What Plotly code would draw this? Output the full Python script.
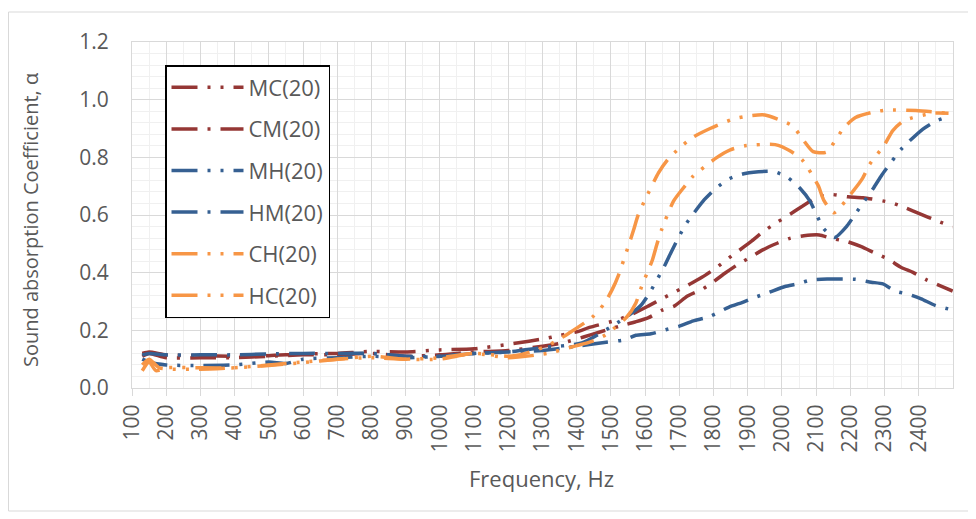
import plotly.graph_objects as go

# ---------------- data ----------------
MC_f = [130,150,200,300,400,500,600,700,800,900,1000,1100,1220,1304,1349,1400,1440,1521,1565,1610,1650,1730,1766,1808,1845,1912,1946,1989,2028,2101,2145,2193,2237,2319,2361,2407,2449,2499]
MC_a = [0.12,0.125,0.115,0.112,0.11,0.112,0.118,0.12,0.127,0.125,0.132,0.136,0.155,0.171,0.182,0.195,0.211,0.237,0.258,0.285,0.31,0.36,0.384,0.417,0.451,0.51,0.543,0.577,0.606,0.66,0.671,0.663,0.66,0.643,0.625,0.602,0.582,0.559]

CM_f = [130,150,200,300,400,500,600,700,800,900,1000,1100,1200,1300,1361,1420,1470,1527,1571,1610,1650,1685,1724,1766,1798,1832,1873,1907,1944,1986,2023,2064,2109,2145,2190,2232,2268,2310,2349,2383,2423,2465,2499]
CM_a = [0.11,0.12,0.105,0.105,0.105,0.11,0.115,0.115,0.12,0.11,0.115,0.125,0.13,0.145,0.157,0.177,0.195,0.215,0.229,0.244,0.27,0.284,0.319,0.342,0.367,0.397,0.43,0.453,0.479,0.502,0.519,0.528,0.531,0.519,0.508,0.49,0.47,0.447,0.418,0.401,0.375,0.353,0.336]

MH_f = [130,150,200,300,400,500,550,600,700,800,900,1000,1100,1200,1300,1415,1508,1552,1588,1613,1656,1676,1698,1722,1773,1808,1847,1892,1975,2018,2054,2082,2122,2154,2190,2217,2268,2292,2321,2349,2412,2450,2494]
MH_a = [0.1,0.09,0.08,0.078,0.08,0.09,0.085,0.1,0.105,0.11,0.105,0.11,0.12,0.125,0.14,0.156,0.218,0.252,0.287,0.33,0.422,0.471,0.523,0.573,0.653,0.694,0.726,0.744,0.751,0.729,0.691,0.648,0.553,0.522,0.562,0.608,0.694,0.739,0.786,0.829,0.898,0.926,0.944]

HM_f = [130,150,200,300,400,500,600,700,800,900,1000,1100,1200,1300,1400,1486,1539,1573,1617,1660,1699,1741,1787,1844,1887,1918,1963,2009,2045,2086,2132,2167,2215,2261,2295,2332,2373,2407,2449,2494]
HM_a = [0.115,0.12,0.115,0.115,0.115,0.118,0.12,0.12,0.12,0.11,0.11,0.12,0.125,0.13,0.145,0.159,0.167,0.183,0.188,0.202,0.214,0.233,0.247,0.28,0.298,0.313,0.332,0.352,0.361,0.375,0.378,0.378,0.377,0.367,0.361,0.336,0.324,0.309,0.286,0.272]

CH_f = [130,150,170,200,300,400,500,600,700,800,900,1000,1100,1200,1250,1300,1336,1377,1445,1480,1504,1522,1551,1566,1580,1600,1639,1666,1700,1740,1790,1858,1905,1950,2031,2060,2091,2130,2181,2215,2261,2305,2392,2487]
CH_a = [0.06,0.09,0.06,0.07,0.07,0.07,0.078,0.088,0.1,0.11,0.1,0.1,0.12,0.11,0.12,0.14,0.16,0.19,0.245,0.292,0.342,0.391,0.492,0.547,0.601,0.653,0.746,0.792,0.832,0.87,0.9,0.933,0.944,0.947,0.909,0.864,0.82,0.818,0.903,0.938,0.955,0.964,0.962,0.953]

HC_f = [130,150,180,300,400,500,600,700,800,900,1000,1100,1200,1314,1397,1440,1484,1547,1573,1590,1621,1634,1649,1683,1710,1740,1808,1849,1892,1980,2023,2060,2106,2122,2152,2208,2235,2256,2300,2324,2358,2441,2487]
HC_a = [0.08,0.1,0.07,0.065,0.07,0.08,0.09,0.1,0.105,0.1,0.105,0.12,0.105,0.12,0.146,0.16,0.184,0.247,0.295,0.353,0.443,0.497,0.552,0.648,0.691,0.734,0.798,0.826,0.84,0.844,0.823,0.79,0.702,0.652,0.608,0.683,0.726,0.775,0.844,0.893,0.928,0.953,0.953]

names = ["MC(20)", "CM(20)", "MH(20)", "HM(20)", "CH(20)", "HC(20)"]
x_ticks = list(range(100, 2401, 100))
y_ticks = [0.0, 0.2, 0.4, 0.6, 0.8, 1.0, 1.2]
x_title = "Frequency, Hz"
y_title = "Sound absorption Coefficient, α"

# ---------------- styles ----------------
RED = "#953735"
BLUE = "#366092"
ORANGE = "#F79646"
DDD = "26px,10px,3px,10px,3px,10px"   # long dash dot dot
DD = "26px,10px,3px,10px"             # long dash dot
TXT = "#595959"
FONT = "Open Sans"
FS = 21
FS_XT = 22
FS_YT = 20
FS_L = 22

series = [
    (MC_f, MC_a, RED, DDD),
    (CM_f, CM_a, RED, DD),
    (MH_f, MH_a, BLUE, DDD),
    (HM_f, HM_a, BLUE, DD),
    (CH_f, CH_a, ORANGE, DDD),
    (HC_f, HC_a, ORANGE, DDD),
]

fig = go.Figure()
for name, (f, a, c, d) in zip(names, series):
    fig.add_trace(go.Scatter(
        x=f, y=a, name=name, mode="lines", legendgroup=name,
        line=dict(color=c, width=3.5, dash=d, shape="spline", smoothing=0.6),
    ))

# page body has an 8px offset; window-pixel targets: plot area x 132..953, y 42..388
OFF = 8
W, H = 976, 519
PL, PR, PT, PB = 132, 953, 42, 388
L, T = PL - OFF, PT - OFF
R, B = W + OFF - PR, H + OFF - PB
pw, ph = PR - PL, PB - PT

def px2paper(x, y):
    return (x - PL) / pw, (PB - y) / ph

bx0, by0 = px2paper(OFF + 0.5, 12)
bx1, by1 = px2paper(971, 511)
lx, ly = px2paper(165, 65)
xtx, xty = px2paper(541, 478)
ytx, yty = px2paper(30, 220)

fig.update_layout(
    width=W, height=H,
    margin=dict(l=L, r=R, t=T, b=B, pad=0, autoexpand=False),
    paper_bgcolor="white", plot_bgcolor="white",
    font=dict(family=FONT, size=FS, color=TXT),
    showlegend=True,
    legend=dict(
        x=lx, y=ly, xanchor="left", yanchor="top",
        bgcolor="white", bordercolor="black", borderwidth=1.5,
        font=dict(family=FONT, size=FS_L, color=TXT),
        tracegroupgap=10, itemwidth=72,
    ),
    xaxis=dict(
        range=[100, 2500], tickvals=x_ticks, tickangle=-90,
        showgrid=True, gridcolor="#D9D9D9", gridwidth=1,
        minor=dict(dtick=50, tick0=100, showgrid=True, gridcolor="#F0F0F0", gridwidth=1),
        ticks="outside", ticklen=7, tickcolor="#D9D9D9",
        showline=True, linecolor="#D9D9D9", linewidth=1, mirror=True,
        zeroline=False,
        tickfont=dict(family=FONT, size=FS, color=TXT),
    ),
    yaxis=dict(
        range=[0, 1.2], tickvals=y_ticks, tickformat=".1f",
        showgrid=True, gridcolor="#D9D9D9", gridwidth=1,
        minor=dict(dtick=0.04, tick0=0, showgrid=True, gridcolor="#F0F0F0", gridwidth=1),
        ticks="", showline=True, linecolor="#D9D9D9", linewidth=1, mirror=True,
        zeroline=False, ticklabelstandoff=18,
        tickfont=dict(family=FONT, size=FS, color=TXT),
    ),
    annotations=[
        dict(text=x_title, xref="paper", yref="paper", x=xtx, y=xty,
             xanchor="center", yanchor="middle", showarrow=False,
             font=dict(family=FONT, size=FS_XT, color=TXT)),
        dict(text=y_title, xref="paper", yref="paper", x=ytx, y=yty, textangle=-90,
             xanchor="center", yanchor="middle", showarrow=False,
             font=dict(family=FONT, size=FS_YT, color=TXT)),
    ],
    shapes=[dict(type="rect", xref="paper", yref="paper", x0=bx0, y0=by1, x1=bx1, y1=by0,
                 line=dict(color="#D9D9D9", width=1), fillcolor="rgba(0,0,0,0)", layer="below")],
)

fig.write_html("out.html")
